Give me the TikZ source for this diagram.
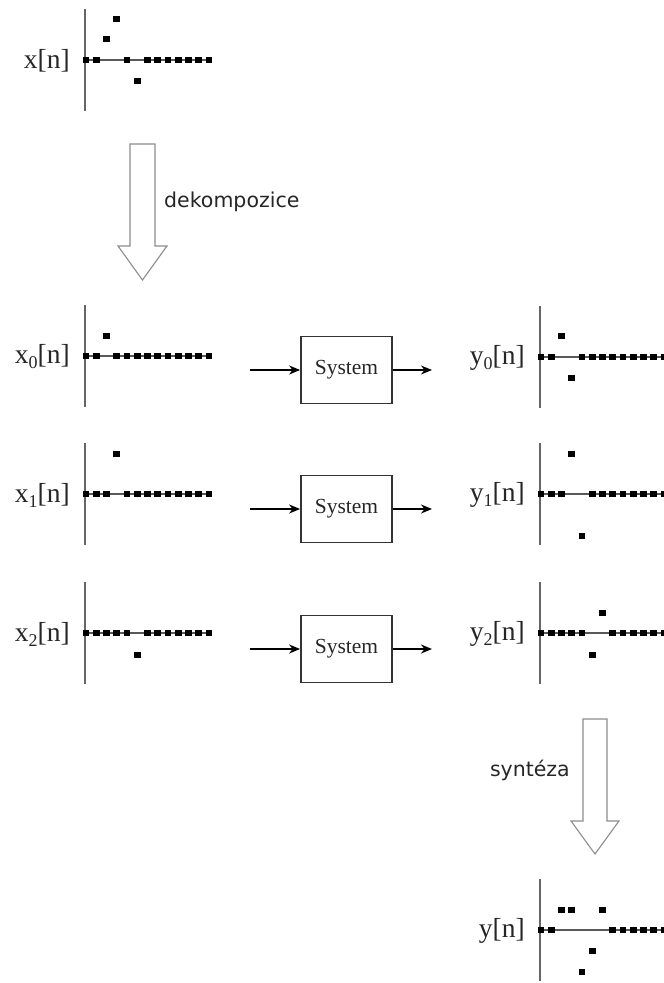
\documentclass[tikz,border=0pt]{standalone}
\usepackage{fontspec}
\setmainfont{Liberation Serif}
\newfontfamily\notesans{DejaVu Sans}
\usetikzlibrary{arrows.meta}

% stem plot: #1 axis x, #2 baseline y, #3 right end of baseline, #4 sample values
\newcommand\sigplot[4]{%
  \draw[axisline] (#1,#2-51) -- (#1,#2+51);
  \draw[zeroline] (#1,#2) -- (#3,#2);
  \foreach \v [count=\k from 0] in {#4} {
    \fill[sample] ({#1+1+10.25*\k-3.4},{#2-(\v)-3.4}) rectangle ++(6.8,6.8);
  }%
}
\newcommand\subidx[1]{\raisebox{-5pt}{\fontsize{18}{18}\selectfont #1}}

\begin{document}
\begin{tikzpicture}[x=1pt,y=-1pt,
  axisline/.style={draw=black!60, line width=1.6pt},
  zeroline/.style={draw=black!65, line width=1.1pt},
  sample/.style={fill=black},
  sig/.style={font=\fontsize{27.5}{30}\selectfont, text=black!85, anchor=east, inner sep=0pt},
  sysbox/.style={draw=black!80, line width=1.8pt, minimum width=91pt, minimum height=67pt,
                 font=\fontsize{21.5}{24}\selectfont, text=black!85, inner sep=0pt},
  flow/.style={line width=1.9pt, -{Stealth[length=11pt,width=9pt,inset=3.5pt]}},
  bigarrow/.style={draw=black!45, line width=1.1pt, fill=white},
  note/.style={font=\notesans\fontsize{20.5}{24}\selectfont, text=black!85, inner sep=0pt}
]
\useasboundingbox (0,0) rectangle (664,983);

% input signal
\sigplot{85}{60}{209}{0,0,21,41,0,-21,0,0,0,0,0,0,0}
\node[sig] (lx) at (70,61) {x[n]};

% decomposition arrow
\draw[bigarrow] (130,144) -- (155,144) -- (155,246) -- (167,246) -- (142.5,280)
  -- (118,246) -- (130,246) -- cycle;
\node[note, anchor=west] (dek) at (164,202) {dekompozice};

% components
\sigplot{85}{356}{209}{0,0,20,0,0,0,0,0,0,0,0,0,0}
\node[sig] (lx0) at (70,357) {x\subidx{0}[n]};
\sigplot{85}{494}{209}{0,0,0,40,0,0,0,0,0,0,0,0,0}
\node[sig] (lx1) at (70,495) {x\subidx{1}[n]};
\sigplot{85}{633}{209}{0,0,0,0,0,-22,0,0,0,0,0,0,0}
\node[sig] (lx2) at (70,634) {x\subidx{2}[n]};

% systems
\node[sysbox] (s0) at (346.5,370) {System};
\node[sysbox] (s1) at (346.5,509) {System};
\node[sysbox] (s2) at (346.5,649) {System};
\foreach \i/\yy in {0/370,1/509,2/649} {
  \coordinate (in\i) at (250,\yy);
  \coordinate (out\i) at (432,\yy);
  \draw[flow] (in\i) -- (s\i.west);
  \draw[flow] (s\i.east) -- (out\i);
}

% responses
\sigplot{540}{357}{668}{0,0,21,-21,0,0,0,0,0,0,0,0,0}
\node[sig] (ly0) at (525,358) {y\subidx{0}[n]};
\sigplot{540}{494}{668}{0,0,0,40,-42,0,0,0,0,0,0,0,0}
\node[sig] (ly1) at (525,495) {y\subidx{1}[n]};
\sigplot{540}{633}{668}{0,0,0,0,0,-22,20,0,0,0,0,0,0}
\node[sig] (ly2) at (525,634) {y\subidx{2}[n]};

% synthesis arrow
\draw[bigarrow] (583,719) -- (607,719) -- (607,821) -- (619,821) -- (595,854)
  -- (571,821) -- (583,821) -- cycle;
\node[note, anchor=east] (syn) at (570,770) {syntéza};

% output signal
\sigplot{540}{930}{668}{0,0,20,20,-42,-21,20,0,0,0,0,0,0}
\node[sig] (ly) at (525,931) {y[n]};
\end{tikzpicture}
\end{document}
